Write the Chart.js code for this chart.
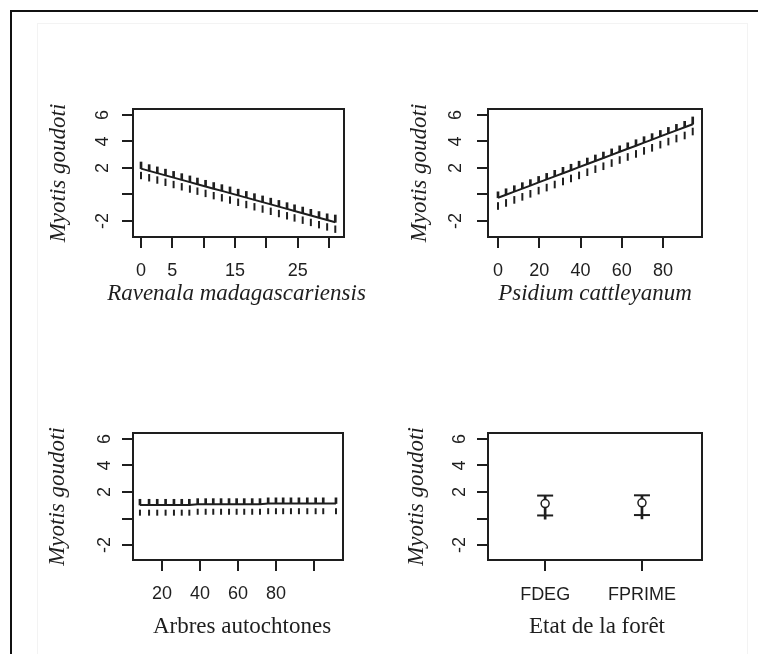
<!DOCTYPE html>
<html><head><meta charset="utf-8">
<script src="https://cdn.jsdelivr.net/npm/chart.js@4/dist/chart.umd.min.js"></script>
<style>
html,body{margin:0;padding:0;background:#fff;}
body{width:758px;height:654px;position:relative;overflow:hidden;}
#frame{position:absolute;left:10px;top:10px;width:800px;height:700px;border:2px solid #111;box-sizing:border-box;}
#inner{position:absolute;left:37px;top:23px;width:711px;height:660px;border:1px solid #f3f3f3;box-sizing:border-box;}
canvas{position:absolute;}
</style></head><body>
<div id="frame"></div><div id="inner"></div>
<canvas id="cA"></canvas><canvas id="cB"></canvas><canvas id="cC"></canvas><canvas id="cD"></canvas>
<script>
// ---------------- DATA ----------------
const yTitle = 'Myotis goudoti';
const yTicks = [-2, 0, 2, 4, 6];
const yTickLabels = ['-2', '', '2', '4', '6'];

// Panel A : Ravenala madagascariensis
const ravTitle = 'Ravenala madagascariensis';
const ravTicks = [0, 5, 10, 15, 20, 25, 30];
const ravTickLabels = ['0', '5', '', '15', '', '25', ''];
const ravX = [0, 1.3, 2.6, 3.9, 5.2, 6.5, 7.8, 9.0, 10.3, 11.6, 12.9, 14.2, 15.5, 16.8, 18.1, 19.4, 20.7, 22.0, 23.3, 24.5, 25.8, 27.1, 28.4, 29.7, 31.0];
const ravFit = [1.95, 1.78, 1.61, 1.44, 1.27, 1.10, 0.93, 0.77, 0.60, 0.43, 0.27, 0.10, -0.07, -0.24, -0.41, -0.58, -0.75, -0.92, -1.09, -1.25, -1.42, -1.59, -1.76, -1.93, -2.10];
const ravUpper = [2.45, 2.25, 2.08, 1.91, 1.74, 1.57, 1.40, 1.24, 1.07, 0.90, 0.74, 0.57, 0.40, 0.23, 0.06, -0.11, -0.28, -0.45, -0.62, -0.78, -0.95, -1.12, -1.29, -1.46, -1.55];
const ravLower = [1.43, 1.26, 1.09, 0.92, 0.75, 0.58, 0.41, 0.25, 0.08, -0.09, -0.25, -0.42, -0.59, -0.76, -0.93, -1.10, -1.27, -1.44, -1.61, -1.77, -1.94, -2.11, -2.28, -2.45, -2.62];

// Panel B : Psidium cattleyanum
const psiTitle = 'Psidium cattleyanum';
const psiTicks = [0, 20, 40, 60, 80];
const psiTickLabels = ['0', '20', '40', '60', '80'];
const psiX = [0, 3.9, 7.9, 11.8, 15.7, 19.7, 23.6, 27.5, 31.5, 35.4, 39.3, 43.3, 47.2, 51.1, 55.1, 59.0, 62.9, 66.9, 70.8, 74.7, 78.7, 82.6, 86.5, 90.5, 94.4];
const psiFit = [-0.25, -0.02, 0.21, 0.44, 0.67, 0.91, 1.14, 1.37, 1.60, 1.83, 2.06, 2.30, 2.53, 2.75, 2.99, 3.22, 3.45, 3.68, 3.91, 4.14, 4.38, 4.61, 4.84, 5.07, 5.30];
const psiUpper = [0.20, 0.43, 0.66, 0.89, 1.12, 1.36, 1.59, 1.82, 2.05, 2.28, 2.51, 2.75, 2.98, 3.20, 3.44, 3.67, 3.90, 4.13, 4.36, 4.59, 4.83, 5.06, 5.29, 5.52, 5.85];
const psiLower = [-0.87, -0.64, -0.41, -0.18, 0.05, 0.29, 0.52, 0.75, 0.98, 1.21, 1.44, 1.68, 1.91, 2.13, 2.37, 2.60, 2.83, 3.06, 3.29, 3.52, 3.76, 3.99, 4.22, 4.45, 4.75];

// Panel C : Arbres autochtones
const arbTitle = 'Arbres autochtones';
const arbTicks = [20, 40, 60, 80, 100];
const arbTickLabels = ['20', '40', '60', '80', ''];
const arbX = [8.4, 13.2, 17.5, 21.9, 26.3, 30.4, 34.4, 38.8, 43.0, 47.0, 51.1, 55.3, 59.3, 63.3, 67.5, 71.6, 75.9, 80.0, 83.8, 87.9, 92.1, 96.5, 100.9, 104.9, 111.6];
const arbFit = [1.02, 1.02, 1.02, 1.02, 1.02, 1.02, 1.02, 1.07, 1.07, 1.07, 1.07, 1.07, 1.07, 1.07, 1.07, 1.07, 1.13, 1.13, 1.13, 1.13, 1.13, 1.13, 1.13, 1.13, 1.13];
const arbUpper = [1.45, 1.45, 1.45, 1.45, 1.45, 1.45, 1.45, 1.50, 1.50, 1.50, 1.50, 1.50, 1.50, 1.50, 1.50, 1.50, 1.56, 1.56, 1.56, 1.56, 1.56, 1.56, 1.56, 1.56, 1.56];
const arbLower = [0.44, 0.44, 0.44, 0.44, 0.44, 0.44, 0.44, 0.51, 0.51, 0.51, 0.51, 0.51, 0.51, 0.51, 0.51, 0.51, 0.55, 0.55, 0.55, 0.55, 0.55, 0.55, 0.55, 0.55, 0.55];

// Panel D : Etat de la forêt
const etatTitle = 'Etat de la forêt';
const etatCats = ['FDEG', 'FPRIME'];
const etatMean = [1.13, 1.18];
const etatUpper = [1.73, 1.75];
const etatLower = [0.23, 0.26];
const etatStemEnd = [-0.05, -0.03];

// ---------------- DRAWING ----------------
const INK = '#1e1e1e';
const TICK_FONT = {family: '"Liberation Sans", Arial, sans-serif', size: 18};
const TL = 11;

const panelDecor = {
  id: 'panelDecor',
  afterDraw(chart, args, o) {
    const {ctx, chartArea: a} = chart;
    ctx.save();
    ctx.strokeStyle = INK; ctx.lineWidth = 2;
    ctx.strokeRect(a.left, a.top, a.right - a.left, a.bottom - a.top);
    ctx.fillStyle = INK;
    ctx.textAlign = 'center'; ctx.textBaseline = 'middle';
    ctx.font = (o.xItalic ? 'italic ' : '') + '23px "Liberation Serif", "Times New Roman", serif';
    ctx.fillText(o.xTitle, (a.left + a.right) / 2 + o.xTitleDx, o.xTitleY);
    ctx.translate(o.yTitleX, (a.top + a.bottom) / 2);
    ctx.rotate(-Math.PI / 2);
    ctx.font = 'italic 23px "Liberation Serif", "Times New Roman", serif';
    ctx.fillText(o.yTitle, 0, 0);
    ctx.restore();
  }
};

function pts(xs, ys) { return xs.map((x, i) => ({x: x, y: ys[i]})); }
function spans(xs, a, b) { return xs.map((x, i) => ({x: x, y: [a[i], b[i]]})); }

function bandSets(xs, fit, upper, lower, dashR) {
  return [
    {type: 'line', data: pts(xs, fit), borderColor: INK, borderWidth: 2, pointRadius: 0, tension: 0, fill: false},
    {type: 'bar', data: spans(xs, fit, upper), backgroundColor: INK, borderWidth: 0, barThickness: 2, grouped: false},
    {type: 'scatter', data: pts(xs, lower), showLine: false, pointStyle: 'line', pointRotation: 90,
     pointRadius: dashR, pointBorderColor: INK, pointBorderWidth: 2}
  ];
}

function makePanel(p) {
  const W = 345, H = 235;
  const cv = document.getElementById(p.id);
  cv.width = W; cv.height = H;
  cv.style.left = p.cx + 'px'; cv.style.top = p.cy + 'px';
  const L = p.box.l - p.cx, T = p.box.t - p.cy, R = p.box.r - p.cx, B = p.box.b - p.cy;
  const yPad = p.box.l - p.yLabelX - TL - 8;
  const xPad = p.xLabelY - p.box.b - TL - 10.8;
  const gridX = {offset: false, drawOnChartArea: false, drawTicks: true, tickLength: TL, color: INK, lineWidth: 2};
  const gridY = {offset: false, drawOnChartArea: false, drawTicks: true, tickLength: TL, color: INK, lineWidth: 2};
  return new Chart(cv, {
    type: 'line',
    data: {datasets: p.datasets},
    plugins: [panelDecor],
    options: {
      responsive: false, animation: false, devicePixelRatio: 1,
      layout: {padding: {left: 0, top: T, right: W - R, bottom: 0}},
      plugins: {
        legend: {display: false}, tooltip: {enabled: false},
        panelDecor: {xTitle: p.xTitle, xItalic: p.xItalic, xTitleY: p.xTitleY - p.cy, xTitleDx: p.xTitleDx || 0,
                     yTitle: yTitle, yTitleX: p.yTitleX - p.cx}
      },
      scales: {
        x: {
          type: 'linear', min: p.xMin, max: p.xMax, offset: false,
          afterBuildTicks: s => { s.ticks = p.xTicks.map(v => ({value: v})); },
          afterFit: s => { s.height = H - B; s.paddingLeft = 0; s.paddingRight = 0; },
          grid: gridX, border: {display: false},
          ticks: {autoSkip: false, minRotation: 0, maxRotation: 0, padding: xPad, font: TICK_FONT, color: INK,
                  callback: (v, i) => p.xTickLabels[i]}
        },
        y: {
          type: 'linear', min: p.yMin, max: p.yMax, offset: false,
          afterBuildTicks: s => { s.ticks = yTicks.map(v => ({value: v})); },
          afterFit: s => { s.width = L; s.paddingTop = 0; s.paddingBottom = 0; },
          grid: gridY, border: {display: false},
          ticks: {autoSkip: false, minRotation: 90, maxRotation: 90, crossAlign: 'center', padding: yPad,
                  font: TICK_FONT, color: INK, callback: (v, i) => yTickLabels[i]}
        }
      }
    }
  });
}

makePanel({
  id: 'cA', cx: 25, cy: 90, box: {l: 133, t: 109, r: 344, b: 237},
  xMin: -1.28, xMax: 32.39, yMin: -3.21, yMax: 6.45,
  xTicks: ravTicks, xTickLabels: ravTickLabels, xTitle: ravTitle, xItalic: true,
  xTitleY: 294, xTitleDx: -2, yTitleX: 59, yLabelX: 103, xLabelY: 271,
  datasets: bandSets(ravX, ravFit, ravUpper, ravLower, 3.7)
});
makePanel({
  id: 'cB', cx: 380, cy: 90, box: {l: 488, t: 109, r: 702, b: 237},
  xMin: -4.85, xMax: 98.9, yMin: -3.21, yMax: 6.45,
  xTicks: psiTicks, xTickLabels: psiTickLabels, xTitle: psiTitle, xItalic: true,
  xTitleY: 294, yTitleX: 420, yLabelX: 456, xLabelY: 271,
  datasets: bandSets(psiX, psiFit, psiUpper, psiLower, 3.8)
});
makePanel({
  id: 'cC', cx: 25, cy: 415, box: {l: 133, t: 433, r: 343, b: 560},
  xMin: 4.74, xMax: 115.3, yMin: -3.13, yMax: 6.45,
  xTicks: arbTicks, xTickLabels: arbTickLabels, xTitle: arbTitle, xItalic: false,
  xTitleY: 627, xTitleDx: 4, yTitleX: 58, yLabelX: 105, xLabelY: 594,
  datasets: bandSets(arbX, arbFit, arbUpper, arbLower, 3.0)
});
const etatX = [1, 2];
makePanel({
  id: 'cD', cx: 380, cy: 415, box: {l: 488, t: 433, r: 702, b: 560},
  xMin: 0.41, xMax: 2.62, yMin: -3.13, yMax: 6.45,
  xTicks: etatX, xTickLabels: etatCats, xTitle: etatTitle, xItalic: false,
  xTitleY: 627, xTitleDx: 2, yTitleX: 417, yLabelX: 460, xLabelY: 595,
  datasets: [
    {type: 'scatter', data: pts(etatX, etatMean), pointStyle: 'circle', pointRadius: 4,
     pointBackgroundColor: '#ffffff', pointBorderColor: INK, pointBorderWidth: 1.5},
    {type: 'scatter', data: pts(etatX, etatUpper), pointStyle: 'line', pointRotation: 0, pointRadius: 8,
     pointBorderColor: INK, pointBorderWidth: 2},
    {type: 'scatter', data: pts(etatX, etatLower), pointStyle: 'line', pointRotation: 0, pointRadius: 8,
     pointBorderColor: INK, pointBorderWidth: 2},
    {type: 'bar', data: spans(etatX, etatStemEnd, etatUpper), backgroundColor: INK, borderWidth: 0,
     barThickness: 2, grouped: false}
  ]
});
</script>
</body></html>
